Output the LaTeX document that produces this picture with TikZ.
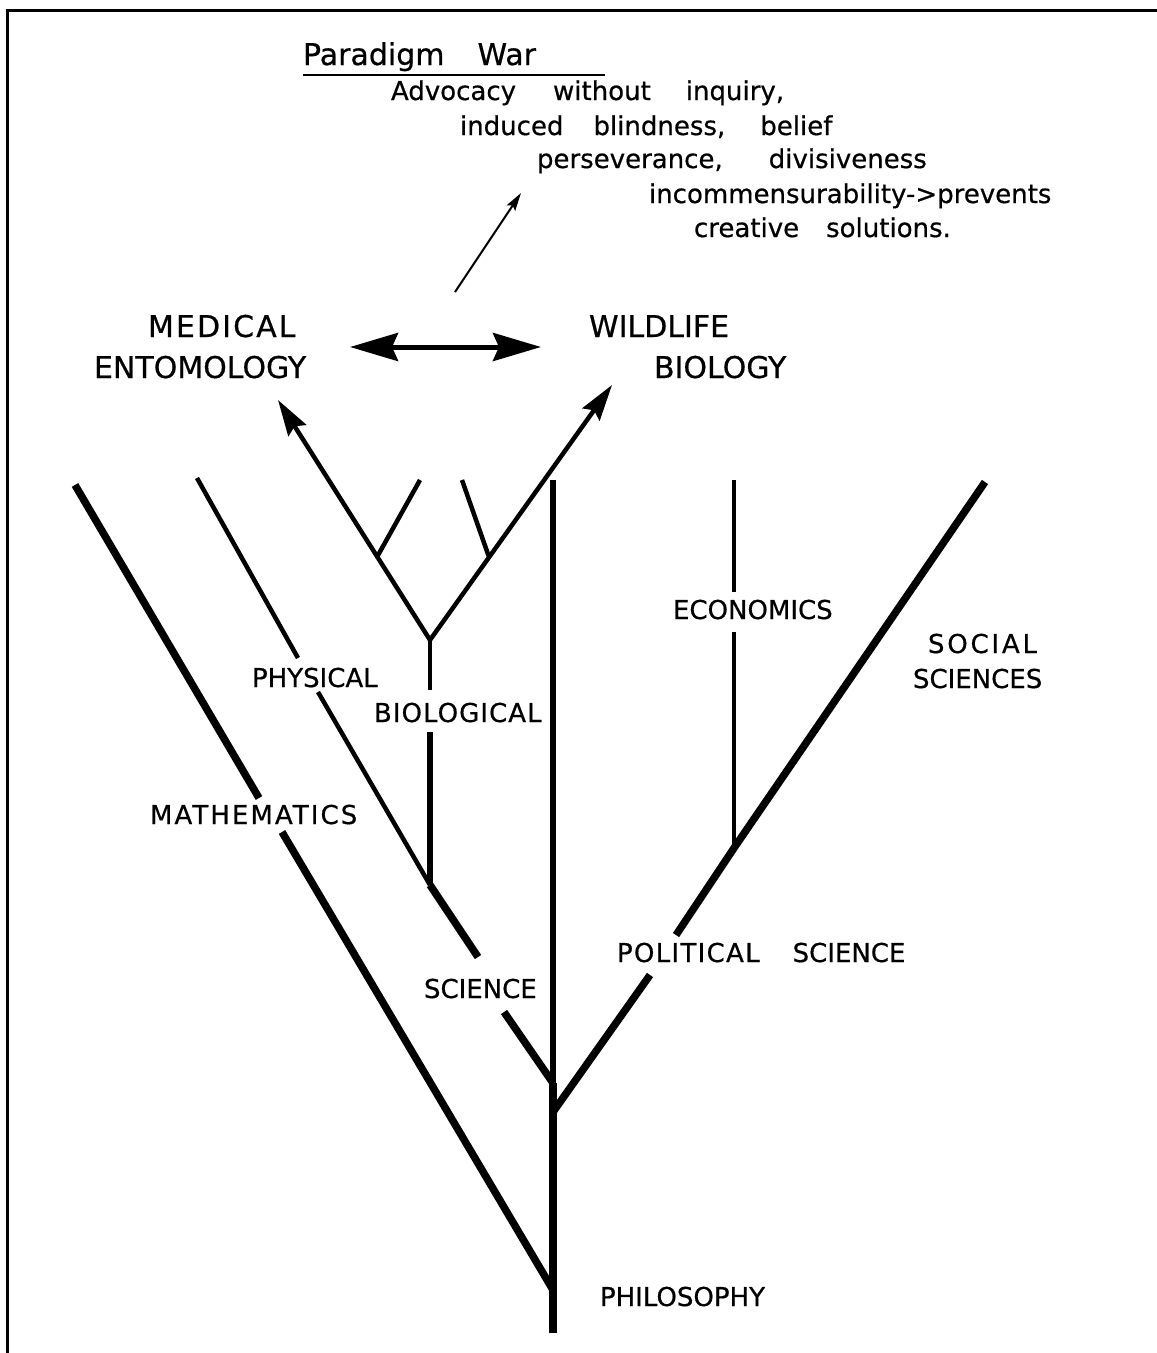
\documentclass[tikz,border=0pt]{standalone}
\usepackage{fontspec}
\setmainfont{DejaVu Sans}[FakeBold=0.6]
\usetikzlibrary{arrows.meta}
\begin{document}
\begin{tikzpicture}[x=1pt,y=-1pt,
  lab/.style={anchor=base west,inner sep=0pt,outer sep=0pt,font=\fontsize{26}{30}\selectfont},
  biglab/.style={anchor=base west,inner sep=0pt,outer sep=0pt,font=\fontsize{30}{34}\selectfont},
  thinline/.style={line width=4.5pt},
  medline/.style={line width=5.5pt},
  thickline/.style={line width=7.5pt},
  bigtip/.style={-{Stealth[length=36pt,width=21pt,inset=5pt]}},
  dbltip/.style={{Stealth[length=48pt,width=28pt,inset=6pt]}-{Stealth[length=48pt,width=28pt,inset=6pt]}},
]
\useasboundingbox (0,0) rectangle (1157,1353);
% frame
\coordinate (fr) at (1157,10);
\coordinate (fc) at (7,10);
\coordinate (fb) at (7,1353);
\draw[line width=3pt] (fr) -- (fc) -- (fb);

% title and text
\node[biglab] (title) at (303,65) {Paradigm\hspace{33pt}War};
\coordinate (ul1) at (303,75);
\coordinate (ul2) at (605,75);
\draw[line width=2pt] (ul1) -- (ul2);
\node[lab] (l1) at (391,100) {Advocacy\hspace{37pt}without\hspace{35pt}inquiry,};
\node[lab] (l2) at (460,135) {induced\hspace{30pt}blindness,\hspace{35pt}belief};
\node[lab] (l3) at (537,168) {perseverance,\hspace{46pt}divisiveness};
\node[lab] (l4) at (649,203) {incommensurability->prevents};
\node[lab] (l5) at (694,237) {creative\hspace{27pt}solutions.};

% small arrow
\coordinate (pa1) at (455,292);
\coordinate (pa2) at (521,193);
\draw[line width=2pt,-{Stealth[length=18pt,width=10pt,inset=3pt]}] (pa1) -- (pa2);

% top labels
\node[biglab] (med) at (148,337) {\addfontfeature{LetterSpace=7}MEDICAL};
\node[biglab] (ent) at (94,378) {ENTOMOLOGY};
\node[biglab] (wild) at (589,337) {WILDLIFE};
\node[biglab] (bio) at (654,378) {BIOLOGY};

% double arrow
\coordinate (dl) at (350,347);
\coordinate (dr) at (541,347);
\draw[line width=5pt,dbltip] (dl) -- (dr);

% Y fork
\coordinate (yj) at (430,640);
\coordinate (ylt) at (278,400);
\coordinate (yrt) at (612,385);
\coordinate (sl1) at (377,557);
\coordinate (sl2) at (420,480);
\coordinate (sr1) at (489,557);
\coordinate (sr2) at (462,480);
\draw[thinline,bigtip] (yj) -- (ylt);
\draw[thinline,bigtip] (yj) -- (yrt);
\draw[thinline] (sl1) -- (sl2);
\draw[thinline] (sr1) -- (sr2);

% biological
\node[lab] (biol) at (374,722) {\addfontfeature{LetterSpace=4}BIOLOGICAL};
\coordinate (bg1) at (430,690);
\coordinate (bg2) at (430,732);
\coordinate (bj) at (430,885);
\draw[thinline] (yj) -- (bg1);
\draw[medline] (bg2) -- (bj);

% physical
\node[lab] (phys) at (252,687) {PHYSICAL};
\coordinate (pt) at (197,478);
\coordinate (pg1) at (298,658);
\coordinate (pg2) at (318,692);
\draw[thinline] (pt) -- (pg1);
\draw[thinline] (pg2) -- (bj);

% science
\node[lab] (sci) at (424,998) {SCIENCE};
\coordinate (sg1) at (478,957);
\coordinate (sg2) at (504,1012);
\coordinate (sj) at (553,1083);
\draw[thickline] (bj) -- (sg1);
\draw[thickline] (sg2) -- (sj);

% trunk
\coordinate (tt) at (553,480);
\coordinate (tb) at (553,1333);
\draw[line width=5.5pt] (tt) -- (sj);
\draw[line width=8pt] (sj) -- (tb);

% mathematics
\node[lab] (math) at (150,824) {\addfontfeature{LetterSpace=8}MATHEMATICS};
\coordinate (mt) at (75,485);
\coordinate (mg1) at (259,798);
\coordinate (mg2) at (282,832);
\coordinate (mj) at (553,1290);
\draw[thickline] (mt) -- (mg1);
\draw[thickline] (mg2) -- (mj);

% philosophy
\node[lab] (phil) at (600,1306) {PHILOSOPHY};

% political / social
\node[lab] (pol) at (617,962) {{\addfontfeature{LetterSpace=5}POLITICAL}\hspace{33pt}SCIENCE};
\coordinate (pj) at (553,1112);
\coordinate (pg3) at (650,975);
\coordinate (pg4) at (676,935);
\coordinate (ej) at (734,848);
\coordinate (st) at (985,482);
\draw[thickline] (pj) -- (pg3);
\draw[thickline] (pg4) -- (ej) -- (st);

% economics
\node[lab] (econ) at (673,619) {ECONOMICS};
\coordinate (et) at (734,480);
\coordinate (eg1) at (734,592);
\coordinate (eg2) at (734,632);
\draw[thinline] (et) -- (eg1);
\draw[thinline] (eg2) -- (ej);

% social sciences
\node[lab] (soc) at (928,653) {S\kern2.8ptO\kern2.8ptC\kern2.8ptI\kern2.8ptA\kern2.8ptL};
\node[lab] (socs) at (913,688) {SCIENCES};
\end{tikzpicture}
\end{document}
